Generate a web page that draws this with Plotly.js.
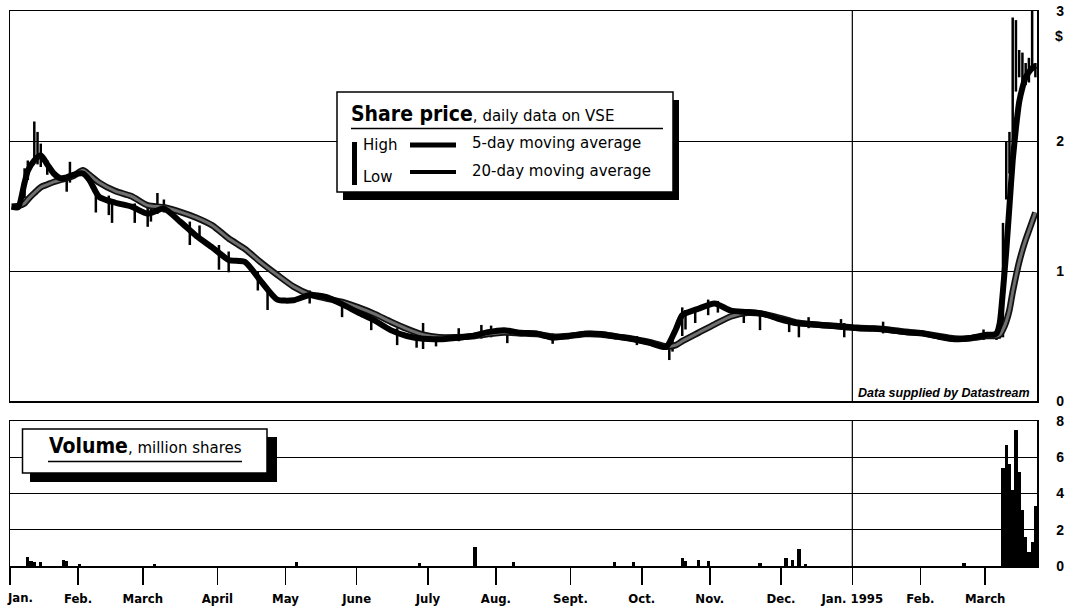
<!DOCTYPE html>
<html><head><meta charset="utf-8">
<script src="https://cdn.plot.ly/plotly-3.0.1.min.js"></script>
<style>html,body{margin:0;padding:0;background:#fff}#chart{width:1075px;height:609px}</style>
</head><body><div id="chart"></div>
<script>
// ---------- DATA ----------
const maDates = ['1994-01-03','1994-01-05','1994-01-07','1994-01-10','1994-01-12','1994-01-14','1994-01-18','1994-01-20','1994-01-24','1994-01-26','1994-01-28','1994-02-02','1994-02-04',
'1994-02-09','1994-02-16','1994-02-23','1994-03-02','1994-03-09','1994-03-16','1994-03-23','1994-03-30','1994-04-06','1994-04-13','1994-04-20','1994-04-27',
'1994-05-04','1994-05-11','1994-05-18','1994-05-25','1994-06-01','1994-06-08','1994-06-15','1994-06-22','1994-06-29','1994-07-06','1994-07-13','1994-07-20','1994-07-27',
'1994-08-03','1994-08-10','1994-08-17','1994-08-24','1994-08-31','1994-09-07','1994-09-14','1994-09-21','1994-09-28','1994-10-05','1994-10-12','1994-10-17',
'1994-10-19','1994-10-26','1994-11-02','1994-11-09','1994-11-16','1994-11-23','1994-11-30','1994-12-07','1994-12-14','1994-12-21','1994-12-28',
'1995-01-04','1995-01-11','1995-01-18','1995-01-25','1995-02-01','1995-02-08','1995-02-15','1995-02-22','1995-03-01','1995-03-03','1995-03-06','1995-03-07',
'1995-03-08','1995-03-09','1995-03-10','1995-03-13','1995-03-14','1995-03-15','1995-03-16','1995-03-17','1995-03-20','1995-03-21','1995-03-22'];
const ma5 = [1.495,1.49,1.68,1.77,1.85,1.89,1.82,1.75,1.715,1.72,1.74,1.75,1.70,
1.57,1.525,1.495,1.44,1.48,1.38,1.27,1.18,1.085,1.07,0.92,0.78,
0.775,0.815,0.80,0.745,0.68,0.62,0.545,0.50,0.478,0.475,0.485,0.50,0.53,
0.545,0.525,0.52,0.487,0.50,0.518,0.515,0.495,0.475,0.447,0.415,0.55,
0.66,0.71,0.75,0.695,0.685,0.67,0.63,0.60,0.59,0.58,0.57,
0.56,0.557,0.545,0.528,0.52,0.495,0.475,0.485,0.51,0.51,0.52,0.60,
0.85,1.15,1.50,1.85,2.10,2.30,2.41,2.49,2.53,2.56,2.58];
const ma20 = [1.495,1.50,1.52,1.55,1.60,1.645,1.665,1.685,1.70,1.715,1.73,1.775,1.74,
1.68,1.615,1.575,1.505,1.49,1.455,1.41,1.35,1.25,1.17,1.065,0.97,
0.88,0.82,0.79,0.762,0.72,0.67,0.61,0.555,0.51,0.49,0.49,0.497,0.515,
0.527,0.52,0.515,0.495,0.50,0.515,0.512,0.495,0.478,0.452,0.42,0.43,
0.46,0.525,0.59,0.65,0.678,0.67,0.64,0.605,0.59,0.58,0.572,
0.563,0.558,0.548,0.532,0.522,0.50,0.48,0.483,0.50,0.50,0.50,0.51,
0.55,0.61,0.70,0.84,0.96,1.07,1.16,1.24,1.31,1.38,1.45];

const barDates = ['1994-01-07','1994-01-10','1994-01-12','1994-01-13','1994-01-14','1994-01-18','1994-01-26','1994-01-27','1994-02-08','1994-02-14','1994-02-15','1994-02-24',
'1994-03-02','1994-03-03','1994-03-07','1994-03-09','1994-03-21','1994-03-24','1994-04-01','1994-04-06','1994-04-19','1994-04-22','1994-05-11','1994-05-25',
'1994-06-07','1994-06-17','1994-06-27','1994-06-29','1994-07-05','1994-07-14','1994-07-25','1994-07-28','1994-08-04','1994-08-24','1994-09-29',
'1994-10-13','1994-10-14','1994-10-19','1994-10-20','1994-10-25','1994-10-31','1994-11-03','1994-11-15','1994-11-22','1994-12-05','1994-12-08','1994-12-13',
'1994-12-27','1994-12-28','1995-01-16','1995-02-28','1995-03-06','1995-03-07','1995-03-08','1995-03-09','1995-03-10','1995-03-13','1995-03-14','1995-03-15',
'1995-03-16','1995-03-17','1995-03-20','1995-03-21','1995-03-22'];
const barHigh = [1.79,1.85,2.15,2.07,1.98,1.85,1.72,1.84,1.60,1.58,1.55,1.52,
1.50,1.48,1.60,1.55,1.38,1.35,1.20,1.15,1.00,0.88,0.85,0.78,
0.68,0.56,0.52,0.60,0.50,0.56,0.585,0.58,0.56,0.52,0.50,
0.43,0.49,0.72,0.70,0.72,0.78,0.77,0.70,0.68,0.62,0.60,0.645,
0.63,0.60,0.61,0.55,0.55,0.60,1.37,2.00,2.07,2.95,2.93,2.70,
2.68,2.60,2.64,3.00,2.60];
const barLow = [1.56,1.70,1.85,1.82,1.80,1.74,1.61,1.68,1.45,1.43,1.37,1.37,
1.34,1.38,1.44,1.45,1.20,1.24,1.01,0.99,0.85,0.70,0.75,0.645,
0.545,0.43,0.41,0.40,0.42,0.46,0.48,0.49,0.445,0.44,0.43,
0.315,0.38,0.50,0.55,0.60,0.66,0.68,0.60,0.545,0.53,0.49,0.56,
0.55,0.49,0.52,0.47,0.47,0.48,0.49,1.55,1.75,2.00,2.38,2.49,
2.38,2.43,2.45,2.57,2.49];

const volDates = ['1994-01-10','1994-01-11','1994-01-12','1994-01-14','1994-01-25','1994-01-26','1994-02-01','1994-03-04','1994-05-05','1994-06-28','1994-07-21',
'1994-08-08','1994-09-20','1994-09-28','1994-10-19','1994-10-20','1994-10-26','1994-10-31','1994-11-22','1994-12-02','1994-12-06','1994-12-08','1994-12-12',
'1995-02-20','1995-03-08','1995-03-09','1995-03-10','1995-03-13','1995-03-14','1995-03-15','1995-03-16','1995-03-17','1995-03-20','1995-03-21','1995-03-22'];
const volValues = [0.5,0.25,0.22,0.2,0.33,0.3,0.1,0.1,0.22,0.15,1.05,
0.2,0.22,0.22,0.46,0.28,0.35,0.3,0.17,0.44,0.35,0.92,0.1,
0.18,5.4,6.65,5.65,4.2,7.5,5.2,3.1,1.6,0.8,1.3,3.3];

const monthTickDates = ['1994-01-03','1994-02-01','1994-03-01','1994-04-01','1994-05-02','1994-06-01','1994-07-01','1994-08-01','1994-09-01','1994-10-03','1994-11-01','1994-12-01','1995-01-03','1995-02-01','1995-03-01'];
const monthLabels = ['Jan.','Feb.','March','April','May','June','July','Aug.','Sept.','Oct.','Nov.','Dec.','Jan. 1995','Feb.','March'];
const priceTicks = [0,1,2,3];
const volTicks = [0,2,4,6,8];

// ---------- LAYOUT HELPERS ----------
const L = 10, R = 1037, T = 11, B = 566, W = R - L, H = B - T;
const ax = p => (p - L) / W;
const ay = p => (B - p) / H;
const mid = d => d + ' 12:00';
const breaks = [{bounds: ['sat', 'mon']}, {values: ['1995-01-02'], dvalue: 86400000}];
const xRange = ['1994-01-03', '1995-03-23'];
const NARROW = "'DejaVu Sans Condensed', 'Liberation Sans Narrow', sans-serif";
const BODY = "'DejaVu Sans', sans-serif";
const HEAD = 'font-family:\'DejaVu Sans Condensed\';font-weight:bold;font-size:21px';

const hlX = [], hlY = [];
barDates.forEach((d, i) => { hlX.push(mid(d), mid(d), null); hlY.push(barLow[i], barHigh[i], null); });

const traces = [
  {type: 'scatter', mode: 'lines', x: hlX, y: hlY, xaxis: 'x2', yaxis: 'y2', line: {color: '#000', width: 2.5}, hoverinfo: 'skip', showlegend: false},
  {type: 'scatter', mode: 'lines', x: maDates.map(mid), y: ma20, xaxis: 'x2', yaxis: 'y2', line: {color: '#111', width: 6.5, shape: 'spline', smoothing: 0.6}, showlegend: false, name: '20-day'},
  {type: 'scatter', mode: 'lines', x: maDates.map(mid), y: ma20, xaxis: 'x2', yaxis: 'y2', line: {color: '#6f6f6f', width: 3, shape: 'spline', smoothing: 0.6}, showlegend: false, hoverinfo: 'skip'},
  {type: 'scatter', mode: 'lines', x: maDates.map(mid), y: ma5, xaxis: 'x2', yaxis: 'y2', line: {color: '#000', width: 6, shape: 'spline', smoothing: 0.6}, showlegend: false, name: '5-day'},
  {type: 'bar', x: volDates.map(mid), y: volValues, width: 86400000, xaxis: 'x', yaxis: 'y', marker: {color: '#000', line: {width: 0}}, showlegend: false, name: 'Volume'}
];

const yTickFont = {family: "'Liberation Sans', Arial, sans-serif", size: 14, weight: 'bold', color: '#000'};

const layout = {
  width: 1075, height: 609,
  margin: {l: L, r: 1075 - R, t: T, b: 609 - B},
  paper_bgcolor: '#fff', plot_bgcolor: '#fff',
  showlegend: false,
  bargap: 0,
  xaxis: {
    domain: [0, 1], anchor: 'y', type: 'date', range: xRange, rangebreaks: breaks,
    tickmode: 'array', tickvals: monthTickDates, ticktext: monthLabels.map((t, i) => i === 0 ? '' : t),
    ticks: 'outside', ticklen: 17, tickwidth: 1.5, tickcolor: '#000', ticklabelstandoff: 3,
    tickfont: {family: NARROW, size: 13, weight: 'bold', color: '#000'},
    showline: true, linecolor: '#000', linewidth: 1.5, mirror: true,
    showgrid: false, zeroline: false, fixedrange: true
  },
  xaxis2: {
    domain: [0, 1], anchor: 'y2', type: 'date', range: xRange, rangebreaks: breaks,
    showticklabels: false, ticks: '', showline: true, linecolor: '#000', linewidth: 1.5, mirror: true,
    showgrid: false, zeroline: false, fixedrange: true
  },
  yaxis: {
    domain: [0, ay(421)], anchor: 'x', range: [0, 8], tickmode: 'array', tickvals: volTicks, side: 'right',
    ticks: '', ticklabelstandoff: 15, tickfont: yTickFont,
    showgrid: true, gridcolor: '#000', gridwidth: 1, zeroline: false,
    showline: true, linecolor: '#000', linewidth: 1.5, mirror: true, fixedrange: true
  },
  yaxis2: {
    domain: [ay(401), 1], anchor: 'x2', range: [0, 3], tickmode: 'array', tickvals: priceTicks, side: 'right',
    ticks: '', ticklabelstandoff: 15, tickfont: yTickFont,
    showgrid: true, gridcolor: '#000', gridwidth: 1, zeroline: false,
    showline: true, linecolor: '#000', linewidth: 1.5, mirror: true, fixedrange: true
  },
  shapes: [
    {type: 'line', xref: 'x2', yref: 'y2 domain', x0: monthTickDates[12], x1: monthTickDates[12], y0: 0, y1: 1, line: {color: '#000', width: 1.2}},
    {type: 'line', xref: 'x', yref: 'y domain', x0: monthTickDates[12], x1: monthTickDates[12], y0: 0, y1: 1, line: {color: '#000', width: 1.2}},
    // Share price key box
    {type: 'rect', xref: 'paper', yref: 'paper', x0: ax(343), x1: ax(679), y0: ay(200), y1: ay(100), fillcolor: '#000', line: {width: 0}},
    {type: 'rect', xref: 'paper', yref: 'paper', x0: ax(337), x1: ax(673), y0: ay(192), y1: ay(92), fillcolor: '#fff', line: {color: '#000', width: 1.5}},
    {type: 'line', xref: 'paper', yref: 'paper', x0: ax(351), x1: ax(663), y0: ay(128.5), y1: ay(128.5), line: {color: '#000', width: 1.5}},
    {type: 'rect', xref: 'paper', yref: 'paper', x0: ax(352), x1: ax(357), y0: ay(185), y1: ay(142), fillcolor: '#000', line: {width: 0}},
    {type: 'line', xref: 'paper', yref: 'paper', x0: ax(410), x1: ax(456), y0: ay(145), y1: ay(145), line: {color: '#000', width: 5}},
    {type: 'line', xref: 'paper', yref: 'paper', x0: ax(410), x1: ax(456), y0: ay(172), y1: ay(172), line: {color: '#000', width: 4}},
    // Volume key box
    {type: 'rect', xref: 'paper', yref: 'paper', x0: ax(30), x1: ax(277), y0: ay(482), y1: ay(437), fillcolor: '#000', line: {width: 0}},
    {type: 'rect', xref: 'paper', yref: 'paper', x0: ax(22.5), x1: ax(267), y0: ay(473), y1: ay(429), fillcolor: '#fff', line: {color: '#000', width: 1.5}},
    {type: 'line', xref: 'paper', yref: 'paper', x0: ax(48), x1: ax(242), y0: ay(461.5), y1: ay(461.5), line: {color: '#000', width: 1.5}}
  ],
  annotations: [
    {xref: 'paper', yref: 'paper', x: ax(349), y: ay(114), xanchor: 'left', yanchor: 'middle', showarrow: false,
     text: '<span style="' + HEAD + '">Share price</span>, daily data on VSE',
     font: {family: BODY, size: 15, color: '#000'}},
    {xref: 'paper', yref: 'paper', x: ax(361), y: ay(145), xanchor: 'left', yanchor: 'middle', showarrow: false, text: 'High', font: {family: BODY, size: 15, color: '#000'}},
    {xref: 'paper', yref: 'paper', x: ax(361), y: ay(177), xanchor: 'left', yanchor: 'middle', showarrow: false, text: 'Low', font: {family: BODY, size: 15, color: '#000'}},
    {xref: 'paper', yref: 'paper', x: ax(470), y: ay(143), xanchor: 'left', yanchor: 'middle', showarrow: false, text: '5-day moving average', font: {family: BODY, size: 15, color: '#000'}},
    {xref: 'paper', yref: 'paper', x: ax(470), y: ay(171), xanchor: 'left', yanchor: 'middle', showarrow: false, text: '20-day moving average', font: {family: BODY, size: 15, color: '#000'}},
    {xref: 'paper', yref: 'paper', x: ax(47), y: ay(446), xanchor: 'left', yanchor: 'middle', showarrow: false,
     text: '<span style="' + HEAD + '">Volume</span>, million shares',
     font: {family: BODY, size: 15, color: '#000'}},
    {xref: 'paper', yref: 'paper', x: ax(1032), y: ay(393), xanchor: 'right', yanchor: 'middle', showarrow: false,
     text: '<b><i>Data supplied by Datastream</i></b>', font: {family: "'Liberation Sans', Arial, sans-serif", size: 12.5, color: '#000'}},
    {xref: 'paper', yref: 'paper', x: ax(1059), y: ay(36), xanchor: 'center', yanchor: 'middle', showarrow: false,
     text: '$', font: yTickFont},
    {xref: 'paper', yref: 'paper', x: ax(19.5), y: ay(597), xanchor: 'center', yanchor: 'middle', showarrow: false,
     text: monthLabels[0], font: {family: NARROW, size: 13, weight: 'bold', color: '#000'}}
  ]
};

Plotly.newPlot('chart', traces, layout, {staticPlot: true, displayModeBar: false});
</script>
</body></html>
